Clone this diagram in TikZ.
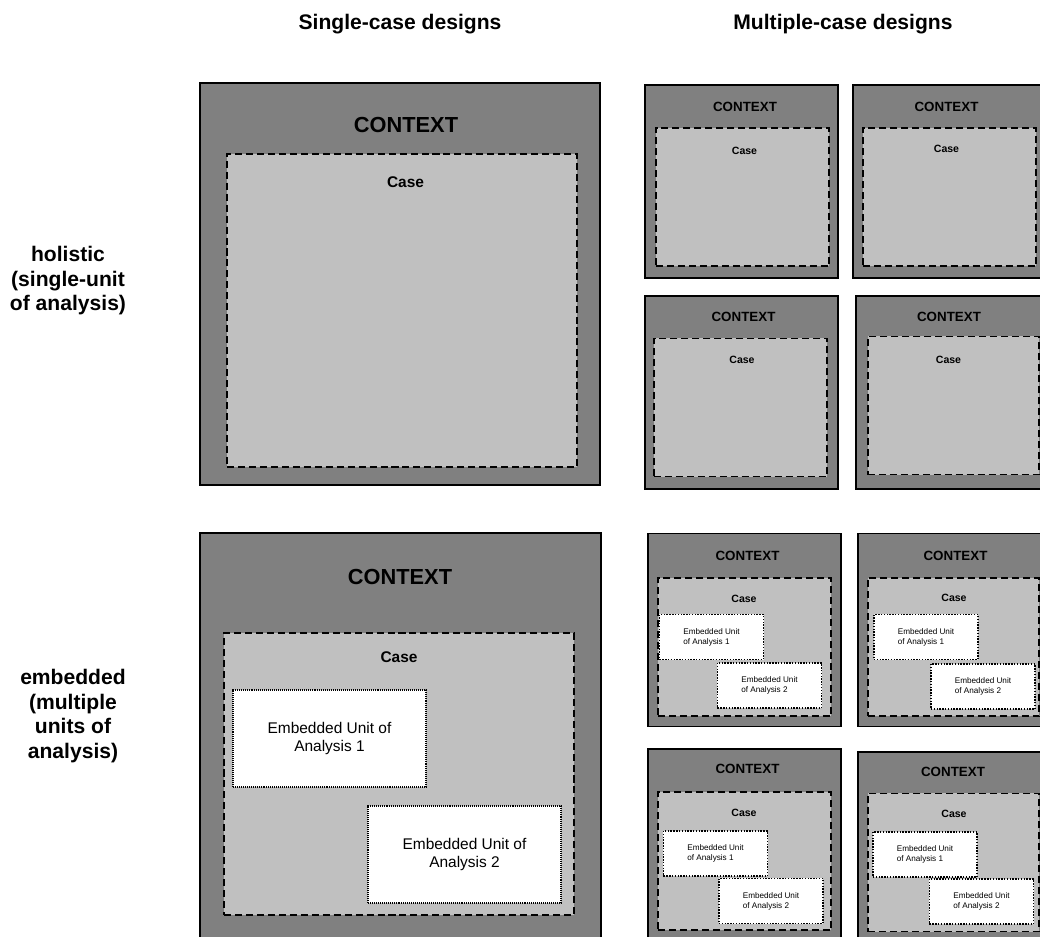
\documentclass[tikz,border=0pt]{standalone}
\usepackage{fontspec}
\setmainfont{Liberation Sans}
\definecolor{ctxgray}{RGB}{128,128,128}
\definecolor{casegray}{RGB}{192,192,192}

\begin{document}
\begin{tikzpicture}[x=0.025cm, y=-0.025cm,
		ctxbox/.style={draw, fill=ctxgray, line width=1pt, inner sep=0pt},
		casebox/.style={draw, fill=casegray, line width=1.1pt, dash pattern=on 5pt off 2.8pt, inner sep=0pt},
		unitbox/.style={draw, fill=white, line width=0.8pt, dash pattern=on 0.7pt off 0.7pt, inner sep=0pt},
		smallctx/.style={ctxbox, minimum width=4.825cm, minimum height=4.825cm},
		smallcase/.style={casebox, minimum width=4.325cm, minimum height=3.45cm},
		smallunit/.style={unitbox, line width=1.1pt, dash pattern=on 1pt off 1pt, minimum width=2.6cm, minimum height=1.125cm, align=left, font=\fontsize{5.8}{7}\selectfont},
		bigunit/.style={unitbox, minimum width=4.825cm, minimum height=2.425cm, align=center, font=\fontsize{11}{13.5}\selectfont},
		headtext/.style={font=\fontsize{15}{17.4}\selectfont\bfseries, align=center},
		bigctxtext/.style={font=\fontsize{15.5}{18}\selectfont\bfseries},
		bigcasetext/.style={font=\fontsize{11}{13}\selectfont\bfseries},
		smallctxtext/.style={font=\fontsize{9.5}{11}\selectfont\bfseries},
		smallcasetext/.style={font=\fontsize{7.5}{9}\selectfont\bfseries}
	]

	\useasboundingbox (0,0) rectangle (1040,937);
	\clip (0,0) rectangle (1040,937);

	% column and row headings
	\node[headtext, anchor=base] (single) at (400,30) {Single-case designs};
	\node[headtext, anchor=base] (multiple) at (843,30) {Multiple-case designs};
	\node[headtext] (holistic) at (68,281) {holistic\\(single-unit\\of analysis)};
	\node[headtext] (embedded) at (73,716) {embedded\\(multiple\\units of\\analysis)};

	% single-case, holistic
	\node[ctxbox, minimum width=10cm, minimum height=10.05cm] (ctxS) at (400,284) {};
	\node[casebox, minimum width=8.75cm, minimum height=7.825cm] (caseS) at (402,310.5) {};
	\node[bigctxtext] (ctxSt) at (406,125) {CONTEXT};
	\node[bigcasetext] (caseSt) at (405.5,182) {Case};

	% single-case, embedded
	\node[ctxbox, minimum width=10.025cm, minimum height=10.3cm] (ctxE) at (400.5,739) {};
	\node[casebox, minimum width=8.75cm, minimum height=7.05cm] (caseE) at (399,774) {};
	\node[bigctxtext] (ctxEt) at (400,577) {CONTEXT};
	\node[bigcasetext] (caseEt) at (399,657) {Case};
	\node[bigunit] (unitE1) at (329.5,738.5) {Embedded Unit of\\Analysis 1};
	\node[bigunit] (unitE2) at (464.5,854.5) {Embedded Unit of\\Analysis 2};

	% multiple-case, holistic
	\node[smallctx] (ctxA) at (741.5,181.5) {};
	\node[smallcase] (caseA) at (742.5,197) {};
	\node[smallctxtext] at (745,107) {CONTEXT};
	\node[smallcasetext] at (744.5,151) {Case};

	\node[smallctx] (ctxB) at (949.5,181.5) {};
	\node[smallcase] (caseB) at (949.5,197) {};
	\node[smallctxtext] at (946.5,107) {CONTEXT};
	\node[smallcasetext] at (946.5,149) {Case};

	\node[smallctx] (ctxC) at (741.5,392.5) {};
	\node[smallcase] (caseC) at (740.5,407.5) {};
	\node[smallctxtext] at (743.5,317) {CONTEXT};
	\node[smallcasetext] at (742,360) {Case};

	\node[smallctx] (ctxD) at (952.5,392.5) {};
	\node[smallcase, minimum width=4.275cm] (caseD) at (953.5,405.5) {};
	\node[smallctxtext] at (949,317) {CONTEXT};
	\node[smallcasetext] at (948.5,360) {Case};

	% multiple-case, embedded
	\node[smallctx] (ctxE1) at (744.5,630) {};
	\node[smallcase] (caseE1) at (744.5,647) {};
	\node[smallctxtext] at (747.5,556) {CONTEXT};
	\node[smallcasetext] at (744,599) {Case};
	\node[smallunit] (unitE1a) at (711.5,637) {Embedded Unit\\of Analysis 1};
	\node[smallunit] (unitE1b) at (769.5,685.5) {Embedded Unit\\of Analysis 2};

	\node[smallctx] (ctxF) at (954.5,630) {};
	\node[smallcase, minimum width=4.275cm] (caseF) at (953.5,647) {};
	\node[smallctxtext] at (955.5,556) {CONTEXT};
	\node[smallcasetext] at (954,598) {Case};
	\node[smallunit] (unitFa) at (926,637) {Embedded Unit\\of Analysis 1};
	\node[smallunit] (unitFb) at (983,686.5) {Embedded Unit\\of Analysis 2};

	\node[smallctx] (ctxG) at (744.5,845.5) {};
	\node[smallcase] (caseG) at (744.5,861) {};
	\node[smallctxtext] at (747.5,769) {CONTEXT};
	\node[smallcasetext] at (744,813) {Case};
	\node[smallunit] (unitGa) at (715.5,853.5) {Embedded Unit\\of Analysis 1};
	\node[smallunit] (unitGb) at (771,901) {Embedded Unit\\of Analysis 2};

	\node[smallctx] (ctxH) at (954.5,848.5) {};
	\node[smallcase, minimum width=4.275cm] (caseH) at (953.5,862.5) {};
	\node[smallctxtext] at (953,772) {CONTEXT};
	\node[smallcasetext] at (954,814) {Case};
	\node[smallunit] (unitHa) at (925,854.5) {Embedded Unit\\of Analysis 1};
	\node[smallunit] (unitHb) at (981.5,901.5) {Embedded Unit\\of Analysis 2};
\end{tikzpicture}
\end{document}
